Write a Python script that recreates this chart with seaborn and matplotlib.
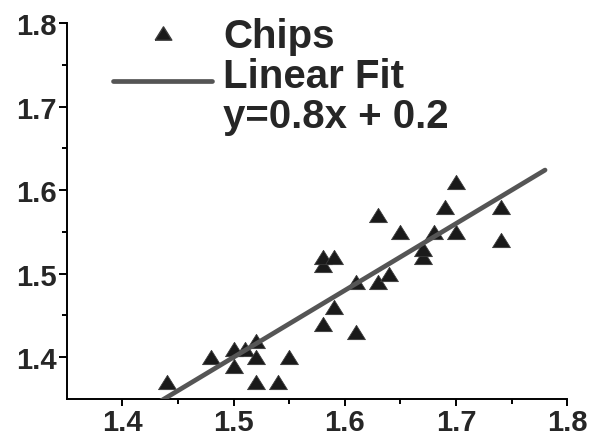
import matplotlib
matplotlib.use("Agg")
import matplotlib.pyplot as plt
import seaborn as sns
import numpy as np
import pandas as pd
from matplotlib.lines import Line2D

# ---- data ----
chips_x = [1.44, 1.48, 1.50, 1.50, 1.51, 1.52, 1.52, 1.52, 1.54, 1.55,
           1.58, 1.58, 1.58, 1.59, 1.59, 1.61, 1.61, 1.63, 1.63, 1.64,
           1.65, 1.67, 1.67, 1.68, 1.69, 1.70, 1.70, 1.74, 1.74]
chips_y = [1.37, 1.40, 1.41, 1.39, 1.41, 1.42, 1.40, 1.37, 1.37, 1.40,
           1.44, 1.51, 1.52, 1.52, 1.46, 1.43, 1.49, 1.57, 1.49, 1.50,
           1.55, 1.52, 1.53, 1.55, 1.58, 1.61, 1.55, 1.58, 1.54]
fit_slope = 0.8
fit_intercept = 0.2
fit_x = [1.43, 1.78]
fit_y = [fit_slope * v + fit_intercept for v in fit_x]
x_ticks = [1.4, 1.5, 1.6, 1.7, 1.8]
y_ticks = [1.4, 1.5, 1.6, 1.7, 1.8]
legend_labels = ["Chips", "Linear Fit", "y=0.8x + 0.2"]

sns.set_style("ticks")
plt.rcParams['font.family'] = ['Liberation Sans', 'DejaVu Sans']
plt.rcParams['font.weight'] = 'bold'

fig = plt.figure(figsize=(5.92, 4.39), dpi=100)
ax = fig.add_axes([66.7 / 592, 1 - 400 / 439, (567.3 - 66.7) / 592, (400 - 24) / 439])

tri = [(-1, -0.8), (1, -0.8), (0, 0.8), (-1, -0.8)]
df = pd.DataFrame({"x": chips_x, "y": chips_y})
sns.scatterplot(data=df, x="x", y="y", ax=ax, marker=tri, s=165,
                color="#1a1a1a", edgecolor="#3a3a3a", linewidth=0.6, zorder=2)
fdf = pd.DataFrame({"x": fit_x, "y": fit_y})
sns.lineplot(data=fdf, x="x", y="y", ax=ax, color="#555555", linewidth=3.4,
             zorder=3, solid_capstyle="round")

ax.set_xlim(1.35, 1.8)
ax.set_ylim(1.35, 1.8)
ax.set_xticks(x_ticks)
ax.set_yticks(y_ticks)
ax.set_xticks([1.45, 1.55, 1.65, 1.75], minor=True)
ax.set_yticks([1.45, 1.55, 1.65, 1.75], minor=True)
ax.set_xticklabels([f"{v:.1f}" for v in x_ticks])
ax.set_yticklabels([f"{v:.1f}" for v in y_ticks])
ax.set_xlabel("")
ax.set_ylabel("")
for s in ["top", "right"]:
    ax.spines[s].set_visible(False)
for s in ["left", "bottom"]:
    ax.spines[s].set_linewidth(1.4)
    ax.spines[s].set_color("black")
ax.tick_params(axis="both", which="major", length=5.5, width=1.4, labelsize=21,
               direction="out", color="black", pad=2)
ax.tick_params(axis="x", which="major", length=5, pad=1.5)
ax.tick_params(axis="both", which="minor", length=3.5, width=1.4,
               direction="out", color="black")
for lab in ax.get_xticklabels() + ax.get_yticklabels():
    lab.set_fontweight("bold")

handles = [
    Line2D([], [], linestyle="none", marker=tri, markersize=12,
           markerfacecolor="#1a1a1a", markeredgecolor="#3a3a3a"),
    Line2D([], [], color="#555555", linewidth=3.4, solid_capstyle="round"),
    Line2D([], [], linestyle="none", marker=None),
]
leg = ax.legend(handles, legend_labels, loc="upper left",
                bbox_to_anchor=(113 / 592, 1 - 18 / 439),
                bbox_transform=fig.transFigure, frameon=False,
                prop={"size": 29, "weight": "bold"}, handlelength=2.46,
                handletextpad=0.27, labelspacing=0.047, borderpad=0,
                borderaxespad=0)
# lower the fit-line handle slightly, as in the reference
for ln in leg.get_lines():
    if ln.get_linestyle() not in ("None", "none", "") and ln.get_marker() in (None, "None", "none", ""):
        yd = np.asarray(ln.get_ydata(), dtype=float)
        ln.set_ydata(yd - 6)

fig.savefig("out.png", dpi=100)
